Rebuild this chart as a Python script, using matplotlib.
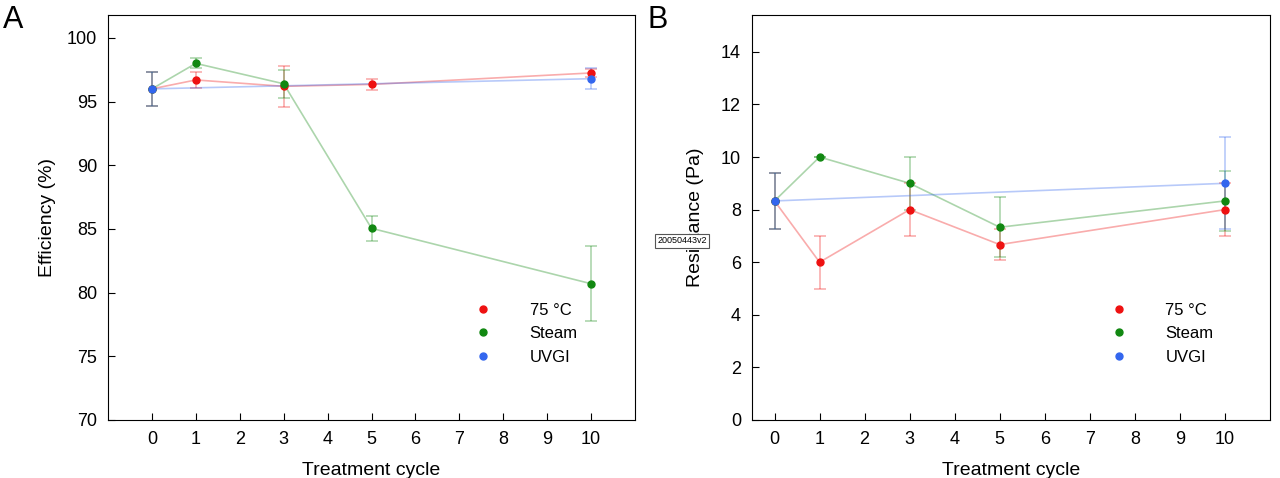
import matplotlib
matplotlib.use("Agg")
import matplotlib.pyplot as plt

plt.rcParams['font.family'] = ['Liberation Sans', 'DejaVu Sans']

labels = ["75 °C", "Steam", "UVGI"]
colors = ["#ee1111", "#118811", "#3366ee"]
xticks = [0, 1, 2, 3, 4, 5, 6, 7, 8, 9, 10]

# Panel A: efficiency (%)
a_x = [[0, 1, 3, 5, 10], [0, 1, 3, 5, 10], [0, 10]]
a_y = [[96.0, 96.7, 96.2, 96.35, 97.25],
       [96.0, 98.0, 96.4, 85.05, 80.7],
       [96.0, 96.8]]
a_e = [[1.35, 0.6, 1.6, 0.4, 0.3],
       [1.35, 0.4, 1.1, 1.0, 2.95],
       [1.35, 0.8]]

# Panel B: resistance (Pa)
b_x = [[0, 1, 3, 5, 10], [0, 1, 3, 5, 10], [0, 10]]
b_y = [[8.33, 6.0, 8.0, 6.67, 8.0],
       [8.33, 10.0, 9.0, 7.33, 8.33],
       [8.33, 9.0]]
b_e = [[1.05, 1.0, 1.0, 0.6, 1.0],
       [1.05, 0.0, 1.0, 1.15, 1.15],
       [1.05, 1.75]]

fig = plt.figure(figsize=(12.8, 4.78), dpi=100)
axA = fig.add_axes([108/1280, 1-420/478, 527/1280, 405/478])
axB = fig.add_axes([752/1280, 1-420/478, 518/1280, 405/478])

def draw(ax, xs, ys, es):
    for x, y, e, c, l in zip(xs, ys, es, colors, labels):
        ax.errorbar(x, y, yerr=e, color=c, alpha=0.35, lw=1.2, capsize=4, capthick=1.2, zorder=2)
        ax.plot(x, y, 'o', color=c, ms=5, zorder=3, label=l)
    ax.set_xticks(xticks)
    ax.tick_params(direction='in', labelsize=13, length=5, pad=8)
    ax.set_xlabel("Treatment cycle", fontsize=14, labelpad=10)
    ax.legend(loc='lower right', frameon=False, fontsize=12, handletextpad=1.8,
              bbox_to_anchor=(0.92, 0.1), labelspacing=0.5)

draw(axA, a_x, a_y, a_e)
axA.set_xlim(-1, 11)
axA.set_ylim(70, 101.8)
axA.set_yticks([70, 75, 80, 85, 90, 95, 100])
axA.set_ylabel("Efficiency (%)", fontsize=14, labelpad=8)

draw(axB, b_x, b_y, b_e)
axB.set_xlim(-0.5, 11)
axB.set_ylim(0, 15.4)
axB.set_yticks([0, 2, 4, 6, 8, 10, 12, 14])
axB.set_ylabel("Resistance (Pa)", fontsize=14, labelpad=12)

fig.text(3/1280, 1-20/478, "A", fontsize=22, va='center')
fig.text(648/1280, 1-20/478, "B", fontsize=22, va='center')
fig.text(682/1280, 1-241/478, "20050443v2", fontsize=6.5, ha='center', va='center',
         bbox=dict(boxstyle='square,pad=0.25', fc='white', ec='#555555', lw=0.8), zorder=10)

fig.savefig("out.png", dpi=100)
